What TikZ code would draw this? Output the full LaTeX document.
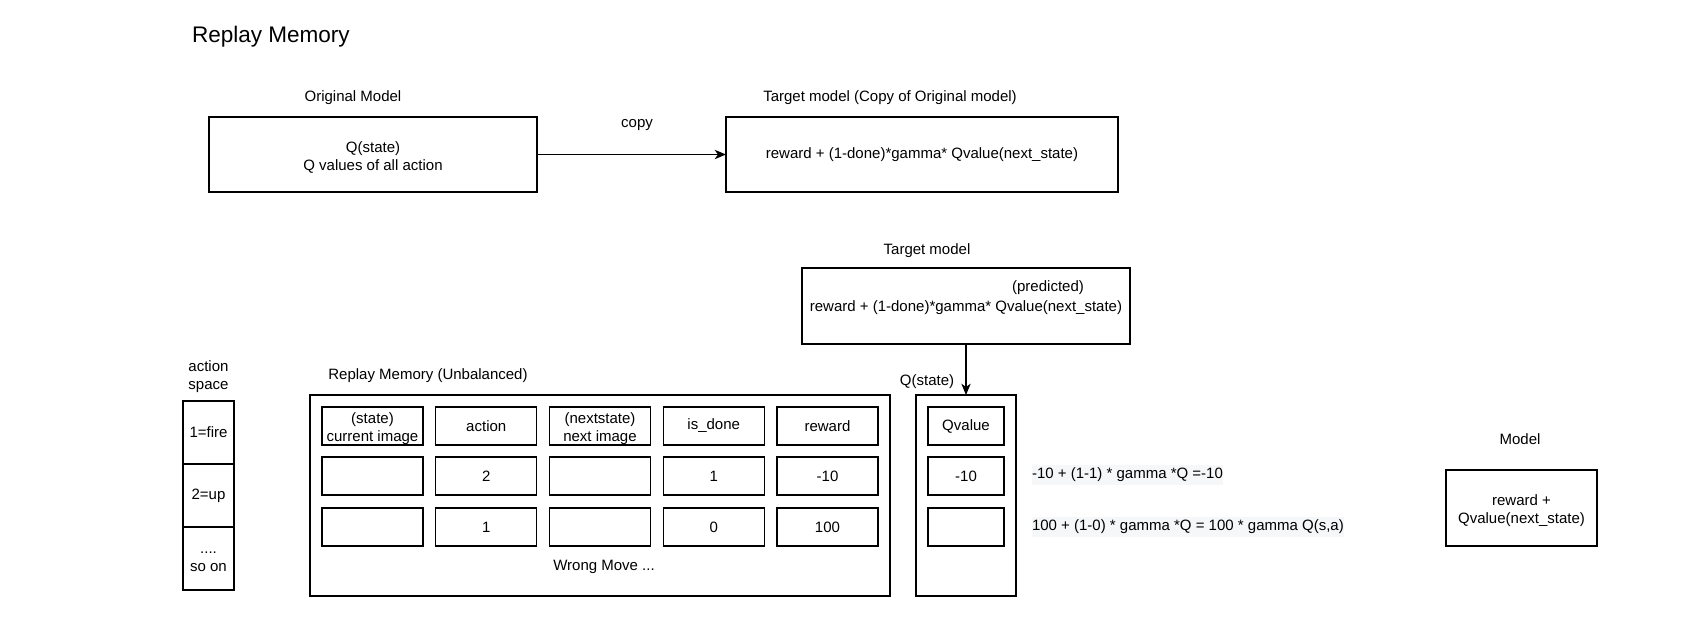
\documentclass[tikz,border=0pt]{standalone}
\usepackage{fontspec}
\setmainfont{Liberation Sans}
\usetikzlibrary{arrows.meta}
\definecolor{hl}{RGB}{246,247,249}
\begin{document}
\begin{tikzpicture}[x=0.75pt,y=-0.75pt,
  every node/.style={font=\fontsize{11.25pt}{13.5pt}\selectfont, inner sep=0pt, outer sep=0pt},
  bx/.style 2 args={draw, line width=0.9pt, minimum width=#1*0.75pt, minimum height=#2*0.75pt, align=center},
  lbl/.style={align=center},
  ml/.style={align=center, yshift=-2.2pt},
  conn/.style={line width=0.9pt, -{Stealth[length=8.5pt,width=7pt,inset=2.5pt]}}]
\useasboundingbox (0,0) rectangle (1700,632);

% title
\node[anchor=west, font=\fontsize{16.9pt}{20pt}\selectfont] (title) at (192,37) {Replay Memory};

% top row
\node[lbl] (origlbl) at (353,98) {Original Model};
\node[bx={328}{75}] (orig) at (373,154.5) {};
\node[ml] (origtxt) at (orig) {Q(state)\\Q values of all action};
\node[lbl] (tgtlbl) at (890,98) {Target model (Copy of Original model)};
\node[bx={392}{75}] (tgt) at (922,154.5) {reward + (1-done)*gamma* Qvalue(next\_state)};
\node[lbl] (copy) at (637,125) {copy};
\draw[conn] (orig.east) -- (tgt.west);

% second target model
\node[lbl] (tgt2lbl) at (927,251) {Target model};
\node[bx={328}{76}] (tgt2) at (966,306) {};
\node[lbl] (pred) at (1048,288) {(predicted)};
\node[lbl] (tgt2txt) at (966,308) {reward + (1-done)*gamma* Qvalue(next\_state)};

% Q(state) column
\node[lbl] (qslbl) at (927,382) {Q(state)};
\node[bx={100}{201}] (qs) at (966,495.5) {};
\node[bx={76}{38}] (qv0) at (966,426) {Qvalue};
\node[bx={76}{38}] (qv1) at (966,476) {-10};
\node[bx={76}{38}] (qv2) at (966,527) {};
\draw[conn] (tgt2.south) -- (qs.north);

% replay memory
\node[lbl] (rmlbl) at (428,376) {Replay Memory (Unbalanced)};
\node[bx={580}{201}] (rm) at (600,495.5) {};
\node[bx={101}{38}] (c11) at (372.5,426) {};
\node[ml] (c11t) at (c11) {(state)\\current image};
\node[bx={101}{38}] (c12) at (486.25,426) {action};
\node[bx={101}{38}] (c13) at (600,426) {};
\node[ml] (c13t) at (c13) {(nextstate)\\next image};
\node[bx={101}{38}] (c14) at (713.75,426) {is\_done};
\node[bx={101}{38}] (c15) at (827.5,426) {reward};
\node[bx={101}{38}] (c21) at (372.5,476) {};
\node[bx={101}{38}] (c22) at (486.25,476) {2};
\node[bx={101}{38}] (c23) at (600,476) {};
\node[bx={101}{38}] (c24) at (713.75,476) {1};
\node[bx={101}{38}] (c25) at (827.5,476) {-10};
\node[bx={101}{38}] (c31) at (372.5,527) {};
\node[bx={101}{38}] (c32) at (486.25,527) {1};
\node[bx={101}{38}] (c33) at (600,527) {};
\node[bx={101}{38}] (c34) at (713.75,527) {0};
\node[bx={101}{38}] (c35) at (827.5,527) {100};
\node[lbl] (wrong) at (604,567) {Wrong Move ...};

% action space
\node[lbl] (aslbl) at (208.5,377) {action\\space};
\node[bx={51}{63}] (as1) at (208.5,432.5) {1=fire};
\node[bx={51}{63}] (as2) at (208.5,495.5) {2=up};
\node[bx={51}{63}] (as3) at (208.5,558.5) {};
\node[ml] (as3t) at (as3) {....\\so on};

% formulas
\node[anchor=west, fill=hl, inner ysep=2pt] (f1) at (1032,475) {-10 + (1-1) * gamma *Q =-10};
\node[anchor=west, fill=hl, inner ysep=2pt] (f2) at (1032,527) {100 + (1-0) * gamma *Q = 100 * gamma Q(s,a)};

% model
\node[lbl] (mlbl) at (1520,439) {Model};
\node[bx={151}{76}] (model) at (1521.5,508) {};
\node[ml] (modeltxt) at (model) {reward +\\Qvalue(next\_state)};
\end{tikzpicture}
\end{document}
